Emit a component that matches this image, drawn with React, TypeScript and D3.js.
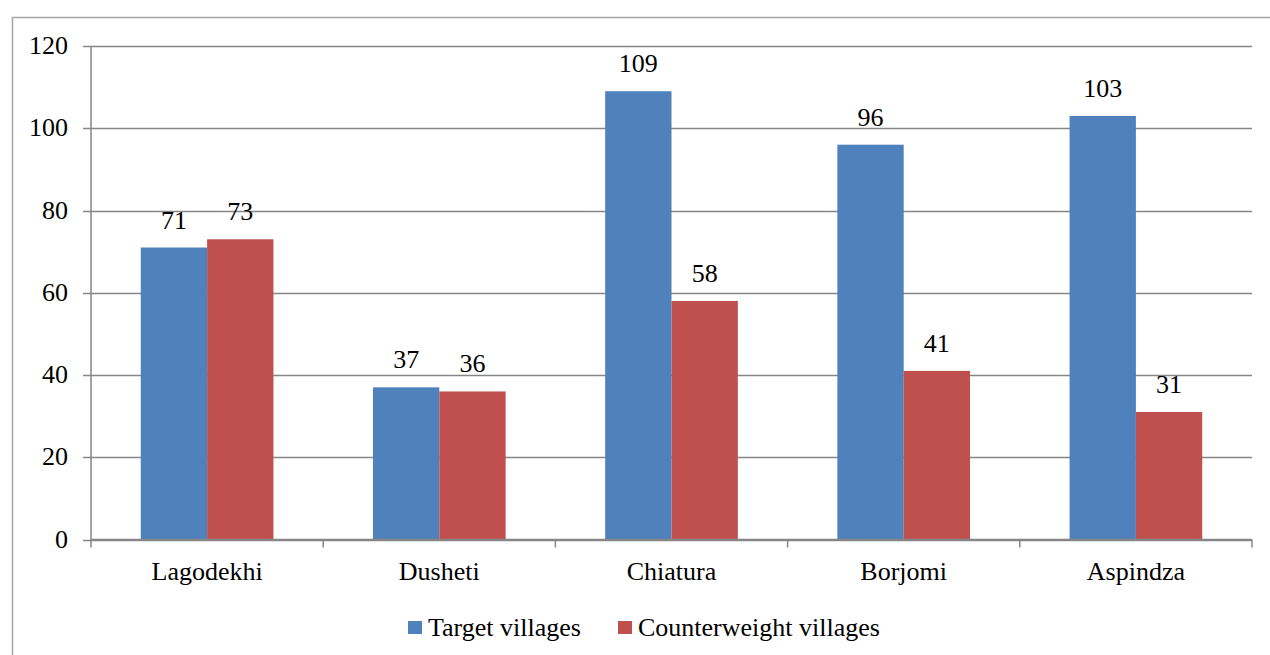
import React from "react";
import * as d3 from "d3";

const categories = ["Lagodekhi", "Dusheti", "Chiatura", "Borjomi", "Aspindza"];
const targetVillages = [71, 37, 109, 96, 103];
const counterweightVillages = [73, 36, 58, 41, 31];
const yTicks = [0, 20, 40, 60, 80, 100, 120];
const seriesNames = ["Target villages", "Counterweight villages"];
const seriesColors = ["#4F81BD", "#C0504D"];

export default function App() {
  const W = 1270, H = 655;
  const left = 91, right = 1252, top = 46, bottom = 539.5;
  const x = d3.scaleBand().domain(categories).range([left, right]).paddingInner(0).paddingOuter(0);
  const y = d3.scaleLinear().domain([0, 120]).range([bottom, top]);
  const bw = x.bandwidth();
  const barW = bw / 3.5;
  const series = [targetVillages, counterweightVillages];
  const ts = { fontFamily: "Liberation Serif", fontSize: 26 };
  const legendX = [408, 618];

  return (
    <svg width={W} height={H} style={{ display: "block", position: "absolute", left: 0, top: 0, fontFamily: "Liberation Serif" }}>
      <rect x={0} y={0} width={W} height={H} fill="#fff" />
      <rect x={12.5} y={17.5} width={1270} height={700} fill="none" stroke="#a6a6a6" strokeWidth={1.5} />
      {yTicks.map((t) => (
        <g key={t}>
          <line x1={left - 8} x2={right} y1={Math.round(y(t)) + 0.5} y2={Math.round(y(t)) + 0.5} stroke="#868686" strokeWidth={1.5} />
          <text x={68} y={y(t) + 8} textAnchor="end" style={ts}>{String(t)}</text>
        </g>
      ))}
      <line x1={left} x2={left} y1={top} y2={bottom + 8} stroke="#868686" strokeWidth={1.5} />
      {categories.map((c, i) => (
        <line key={"t" + i} x1={x(c) + bw} x2={x(c) + bw} y1={bottom} y2={bottom + 8} stroke="#868686" strokeWidth={1.5} />
      ))}
      {categories.map((c, i) => {
        const cx = x(c) + bw / 2;
        return (
          <g key={c}>
            {series.map((s, j) => {
              const bx = cx - barW + j * barW;
              return (
                <g key={j}>
                  <rect x={bx} y={y(s[i])} width={barW} height={bottom - y(s[i])} fill={seriesColors[j]} />
                  <text x={bx + barW / 2} y={y(s[i]) - 19} textAnchor="middle" style={ts}>{String(s[i])}</text>
                </g>
              );
            })}
            <text x={cx} y={580} textAnchor="middle" style={ts}>{c}</text>
          </g>
        );
      })}
      <line x1={left} x2={right} y1={bottom} y2={bottom} stroke="#868686" strokeWidth={1.5} />
      {seriesNames.map((n, j) => {
        const lx = legendX[j];
        return (
          <g key={n}>
            <rect x={lx} y={621} width={14} height={13} fill={seriesColors[j]} />
            <text x={lx + 20} y={636} style={ts}>{n}</text>
          </g>
        );
      })}
    </svg>
  );
}
